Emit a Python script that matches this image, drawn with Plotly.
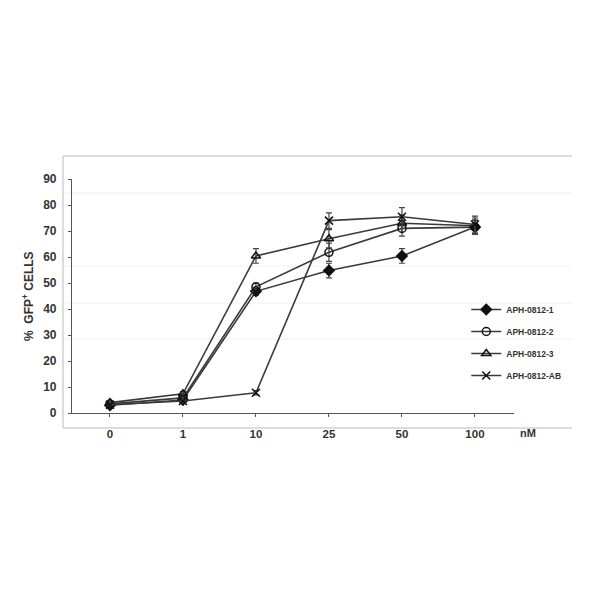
import plotly.graph_objects as go

categories = ["0", "1", "10", "25", "50", "100"]

series_names = ["APH-0812-1", "APH-0812-2", "APH-0812-3", "APH-0812-AB"]
aph1 = [3.0, 5.0, 46.8, 54.8, 60.4, 71.5]
aph2 = [3.5, 5.8, 48.5, 61.8, 71.0, 71.5]
aph3 = [4.0, 7.4, 60.4, 67.0, 73.0, 72.0]
aphab = [3.2, 4.6, 7.8, 74.0, 75.5, 72.5]

err1 = [0.8, 0.8, 1.5, 2.8, 2.8, 2.5]
err2 = [0.8, 0.8, 1.5, 3.5, 3.0, 2.8]
err3 = [0.8, 0.8, 2.8, 3.5, 3.2, 3.0]
errab = [0.6, 0.6, 0.8, 3.0, 3.5, 3.2]

values = [aph1, aph2, aph3, aphab]
errors = [err1, err2, err3, errab]
symbols = ["diamond", "circle-open", "triangle-up-open", "x-thin-open"]
sizes = [8, 8, 8, 8]

LINE = "#3a3a3a"
fig = go.Figure()
for name, v, e, s, sz in zip(series_names, values, errors, symbols, sizes):
    fig.add_trace(go.Scatter(
        x=categories, y=v, name=name, mode="lines+markers",
        line=dict(color=LINE, width=1.6),
        marker=dict(symbol=s, size=sz, color="#111111",
                    line=dict(color="#111111", width=1.5)),
        error_y=dict(type="data", array=e, visible=True, color="#444",
                     thickness=1.2, width=3),
        legendgroup=name,
    ))

OFF = 8  # page body margin
L, R, T, B = 72, 514, 179, 413
W, H = R - L, B - T

def px_x(px):
    return (px - L) / W

def px_y(py):
    return (B - py) / H

shapes = []
for py in [193, 266, 303, 339]:
    shapes.append(dict(type="line", xref="paper", yref="paper",
                       x0=px_x(63), x1=px_x(572), y0=px_y(py), y1=px_y(py),
                       line=dict(color="#f0f0f0", width=1), layer="below"))
shapes.append(dict(type="line", xref="paper", yref="paper",
                   x0=px_x(63), x1=px_x(572), y0=px_y(156), y1=px_y(156),
                   line=dict(color="#d0d0d0", width=1.5), layer="below"))
shapes.append(dict(type="line", xref="paper", yref="paper",
                   x0=px_x(63), x1=px_x(63), y0=px_y(156), y1=px_y(428),
                   line=dict(color="#d0d0d0", width=1.5), layer="below"))
shapes.append(dict(type="line", xref="paper", yref="paper",
                   x0=px_x(63), x1=px_x(572), y0=px_y(428), y1=px_y(428),
                   line=dict(color="#d0d0d0", width=1.5), layer="below"))

fig.update_layout(
    width=600, height=600,
    margin=dict(l=L - OFF, r=600 - R + OFF, t=T - OFF, b=600 - B + OFF, pad=0),
    paper_bgcolor="white", plot_bgcolor="white",
    font=dict(family="Liberation Sans, Arial", color="#333"),
    showlegend=True,
    legend=dict(x=0.892, y=px_y(295), xanchor="left", yanchor="top",
                font=dict(size=8.5, color="#333", weight="bold"), tracegroupgap=3,
                bgcolor="rgba(0,0,0,0)", itemwidth=30),
    shapes=shapes,
    annotations=[
        dict(text="<b>nM</b>", xref="paper", yref="paper", x=px_x(528), y=px_y(433),
             xanchor="center", yanchor="middle",
             showarrow=False, font=dict(size=11, color="#333")),
        dict(text="<b>%  GFP<sup>+</sup> CELLS</b>", xref="paper", yref="paper",
             x=px_x(28), y=0.5, xanchor="center", yanchor="middle", textangle=-90,
             showarrow=False, font=dict(size=12, color="#333")),
    ],
)
fig.update_xaxes(
    type="category", range=[-0.52, -0.52 + W / 73.0],
    showline=True, linecolor="#555", linewidth=1.2, showgrid=False,
    ticks="outside", ticklen=3, tickcolor="#555", ticklabelstandoff=7,
    tickfont=dict(size=11.5, color="#333", weight="bold"),
    zeroline=False,
)
fig.update_yaxes(
    range=[0, 90], tickvals=[0, 10, 20, 30, 40, 50, 60, 70, 80, 90],
    showline=True, linecolor="#555", linewidth=1.2, showgrid=False,
    ticks="outside", ticklen=3, tickcolor="#555", ticklabelstandoff=9,
    tickfont=dict(size=12, color="#333", weight="bold"),
    zeroline=False,
)

fig.write_html("out.html")
